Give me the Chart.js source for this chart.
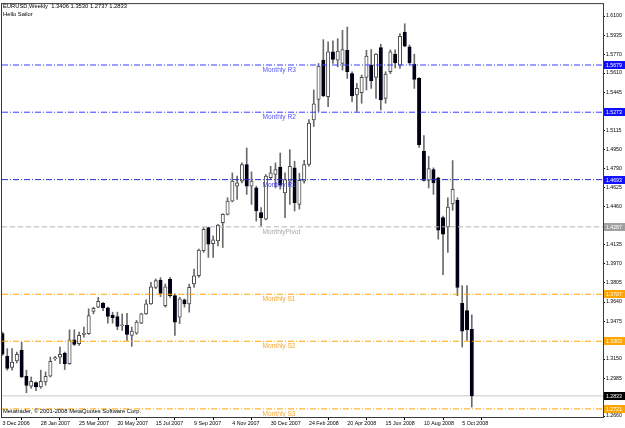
<!DOCTYPE html>
<html><head><meta charset="utf-8">
<script src="https://cdn.jsdelivr.net/npm/chart.js@4.4.1/dist/chart.umd.min.js"></script>
<style>html,body{margin:0;padding:0;background:#fff;overflow:hidden}canvas{display:block}</style>
</head><body>
<canvas id="c" width="625" height="428"></canvas>
<script>
// Weekly EURUSD candles, week index 0 = 3 Dec 2006 ... 98 = 19 Oct 2008
const open = [1.3368,1.3173,1.3077,1.3133,1.3225,1.3002,1.2917,1.2948,1.2911,1.2953,
1.3002,1.3150,1.3167,1.3202,1.3110,1.3316,1.3282,1.3362,1.3368,1.3559,
1.3596,1.3630,1.3591,1.3527,1.3516,1.3436,1.3439,1.3353,1.3373,1.3459,
1.3538,1.3624,1.3767,1.3830,1.3610,1.3835,1.3695,1.3510,1.3659,1.3624,
1.3795,1.3866,1.4081,1.4280,1.4143,1.4166,1.4322,1.4394,1.4508,1.4637,
1.4680,1.4823,1.4637,1.4622,1.4409,1.4352,1.4709,1.4737,1.4800,1.4579,
1.4680,1.4794,1.4480,1.4680,1.4823,1.5207,1.5384,1.5721,1.5407,1.5792,
1.5721,1.5692,1.5806,1.5606,1.5421,1.5441,1.5572,1.5678,1.5572,1.5829,
1.5392,1.5621,1.5772,1.5678,1.5963,1.5835,1.5687,1.5564,1.4936,1.4686,
1.4780,1.4708,1.4366,1.4286,1.4485,1.4514,1.3630,1.3567,1.3406];
const high = [1.3381,1.3240,1.3240,1.3210,1.3295,1.3054,1.2996,1.2953,1.3054,1.3039,
1.3167,1.3173,1.3253,1.3210,1.3402,1.3402,1.3381,1.3425,1.3582,1.3596,
1.3681,1.3638,1.3596,1.3553,1.3553,1.3538,1.3544,1.3425,1.3482,1.3544,
1.3659,1.3809,1.3839,1.3850,1.3795,1.3852,1.3710,1.3681,1.3667,1.3795,
1.3924,1.4096,1.4280,1.4285,1.4209,1.4309,1.4400,1.4537,1.4751,1.4723,
1.4837,1.4965,1.4760,1.4637,1.4452,1.4737,1.4808,1.4837,1.4922,1.4751,
1.4951,1.4851,1.4748,1.4860,1.5210,1.5464,1.5692,1.5897,1.5878,1.5886,
1.5906,1.5978,1.6006,1.5621,1.5521,1.5593,1.5806,1.5812,1.5777,1.5858,
1.5621,1.5809,1.5809,1.5949,1.6034,1.5852,1.5772,1.5570,1.5073,1.4894,
1.4794,1.4714,1.4380,1.4537,1.4857,1.4537,1.3781,1.3781,1.3530];
const low = [1.3180,1.3054,1.3054,1.3116,1.2990,1.2860,1.2898,1.2877,1.2898,1.2925,
1.2996,1.3139,1.3110,1.3060,1.3105,1.3267,1.3267,1.3339,1.3362,1.3538,
1.3591,1.3567,1.3459,1.3459,1.3402,1.3396,1.3310,1.3259,1.3362,1.3454,
1.3533,1.3619,1.3755,1.3687,1.3596,1.3681,1.3353,1.3454,1.3596,1.3553,
1.3767,1.3852,1.4067,1.4024,1.4024,1.4123,1.4109,1.4389,1.4502,1.4523,
1.4665,1.4566,1.4480,1.4337,1.4294,1.4346,1.4697,1.4622,1.4611,1.4366,
1.4480,1.4423,1.4440,1.4663,1.4808,1.5150,1.5279,1.5407,1.5321,1.5692,
1.5664,1.5635,1.5563,1.5364,1.5279,1.5350,1.5464,1.5478,1.5392,1.5293,
1.5350,1.5604,1.5655,1.5649,1.5835,1.5681,1.5478,1.4970,1.4680,1.4622,
1.4566,1.4181,1.3875,1.4067,1.4429,1.3695,1.3253,1.3310,1.2737];
const close = [1.3191,1.3069,1.3124,1.3191,1.2996,1.2922,1.2959,1.2911,1.2959,1.3002,
1.3130,1.3162,1.3191,1.3110,1.3316,1.3276,1.3353,1.3373,1.3524,1.3587,
1.3647,1.3591,1.3516,1.3505,1.3430,1.3445,1.3362,1.3390,1.3467,1.3538,
1.3624,1.3772,1.3824,1.3715,1.3772,1.3695,1.3467,1.3667,1.3624,1.3767,
1.3866,1.4087,1.4266,1.4138,1.4175,1.4303,1.4394,1.4508,1.4680,1.4665,
1.4823,1.4637,1.4680,1.4423,1.4366,1.4723,1.4751,1.4780,1.4645,1.4694,
1.4808,1.4494,1.4686,1.4823,1.5179,1.5344,1.5670,1.5413,1.5792,1.5726,
1.5798,1.5812,1.5621,1.5413,1.5478,1.5572,1.5755,1.5544,1.5772,1.5379,
1.5601,1.5792,1.5698,1.5926,1.5841,1.5698,1.5555,1.4994,1.4686,1.4788,
1.4665,1.4258,1.4223,1.4457,1.4609,1.3767,1.3390,1.3402,1.2833];

const xTickIndex = [0,8,16,24,32,40,48,56,64,72,80,88,96];
const xTickLabels = ['3 Dec 2006','28 Jan 2007','25 Mar 2007','20 May 2007','15 Jul 2007','9 Sep 2007','4 Nov 2007','30 Dec 2007','24 Feb 2008','20 Apr 2008','15 Jun 2008','10 Aug 2008','5 Oct 2008'];
const yTicks = [1.6100,1.5935,1.5770,1.5610,1.5445,1.5115,1.4950,1.4790,1.4625,1.4460,1.4135,1.3970,1.3805,1.3640,1.3475,1.3150,1.2985,1.2660];

const levelNames = ['Monthly R3','Monthly R2','Monthly R1','MonthlyPivot','Monthly S1','Monthly S2','Monthly S3'];
const levelValues = [1.5679,1.5273,1.4693,1.4287,1.3707,1.3303,1.2721];
const currentPrice = 1.2833;
const headerLines = ['EURUSD,Weekly  1.3406 1.3530 1.2737 1.2833','Hello Sailor'];
const copyright = 'Metatrader, \u00A9 2001-2008 MetaQuotes Software Corp.';

// styles
const levelLineColors = ['#3c3cff','#3c3cff','#2a2ad0','#b4b4b4','#ffa500','#ffa500','#ffa500'];
const levelTextColors = ['#5a5aff','#5a5aff','#3c3cdc','#a8a8a8','#f8a830','#f8a830','#f8a830'];
const levelTagColors = ['#1010ff','#1010ff','#1010ff','#a0a0a0','#ffa500','#ffa500','#ffa500'];
const levelDash = [[6,2,1,2],[6,2,1,2],[6,2,1,2],[5,3],[6,2,1,2],[6,2,1,2],[6,2,1,2]];

const X_MIN = -0.1, X_MAX = 125.4, Y_MIN = 1.26514, Y_MAX = 1.62027;
const FONT = '"Liberation Sans", Arial, sans-serif';

const idx = open.map((_, i) => i);
const bull = idx.map(i => close[i] >= open[i]);

const datasets = [];
levelValues.forEach((v, k) => {
  datasets.push({
    type: 'line', data: [{x: X_MIN, y: v}, {x: X_MAX, y: v}],
    borderColor: levelLineColors[k], borderWidth: 1, borderDash: levelDash[k],
    pointRadius: 0, order: -1
  });
});
datasets.push({
  type: 'line', data: [{x: X_MIN, y: currentPrice}, {x: X_MAX, y: currentPrice}],
  borderColor: '#c8c8c8', borderWidth: 1, pointRadius: 0, order: 3
});
datasets.push({
  type: 'bar', label: 'body', order: 0, grouped: false,
  data: idx.map(i => ({x: i, y: [Math.min(open[i], close[i]), Math.max(open[i], close[i])]})),
  backgroundColor: idx.map(i => bull[i] ? '#ffffff' : '#000014'),
  borderColor: idx.map(i => bull[i] ? '#4a4a4a' : '#000014'),
  borderWidth: 1, borderSkipped: false, minBarLength: 1,
  barThickness: 3.4, maxBarThickness: 3.4
});
datasets.push({
  type: 'bar', label: 'wick', order: 1, grouped: false,
  data: idx.map(i => ({x: i, y: [low[i], high[i]]})),
  backgroundColor: '#6a6a6a', borderWidth: 0,
  barThickness: 1, maxBarThickness: 1
});

const overlay = {
  id: 'overlay',
  afterDraw(chart) {
    const ctx = chart.ctx, a = chart.chartArea;
    const ys = chart.scales.y, xs = chart.scales.x;
    ctx.save();
    // frame
    ctx.strokeStyle = '#3a3a3a'; ctx.lineWidth = 1;
    ctx.strokeRect(a.left - 0.5, a.top - 0.5, a.right - a.left + 1, a.bottom - a.top + 1);
    // level labels on chart
    ctx.font = '6.6px ' + FONT; ctx.textBaseline = 'top'; ctx.textAlign = 'left';
    const lx = xs.getPixelForValue(54.3);
    levelValues.forEach((v, k) => {
      ctx.fillStyle = levelTextColors[k];
      ctx.fillText(levelNames[k], lx, ys.getPixelForValue(v) + 2);
    });
    // price tags on axis
    ctx.font = '5.2px ' + FONT; ctx.textBaseline = 'middle';
    const tag = (v, bg) => {
      const py = Math.round(ys.getPixelForValue(v));
      ctx.fillStyle = bg; ctx.fillRect(a.right + 1, py - 4, 21, 8);
      ctx.fillStyle = '#ffffff'; ctx.fillText(v.toFixed(4), a.right + 3, py + 0.5);
    };
    levelValues.forEach((v, k) => tag(v, levelTagColors[k]));
    tag(currentPrice, '#000000');
    // header & copyright
    ctx.fillStyle = '#000000'; ctx.font = '5.8px ' + FONT; ctx.textBaseline = 'middle';
    ctx.fillText(headerLines[0], 3, 6);
    ctx.fillText(headerLines[1], 3, 14);
    ctx.fillText(copyright, 3, 411);
    ctx.restore();
  }
};

new Chart(document.getElementById('c'), {
  type: 'bar',
  data: { datasets },
  plugins: [overlay],
  options: {
    responsive: false, animation: false, devicePixelRatio: 1,
    layout: { padding: { left: 2, top: 2, right: 0, bottom: 0 } },
    plugins: { legend: { display: false }, tooltip: { enabled: false } },
    scales: {
      x: {
        type: 'linear', min: X_MIN, max: X_MAX, offset: false,
        afterFit: s => { s.height = 11; },
        afterBuildTicks: s => { s.ticks = xTickIndex.map(v => ({ value: v })); },
        ticks: {
          autoSkip: false, maxRotation: 0, align: 'start', padding: 0,
          font: { family: FONT, size: 5.3 }, color: '#000',
          callback: v => { const k = xTickIndex.indexOf(v); return k >= 0 ? xTickLabels[k] : null; }
        },
        grid: { drawOnChartArea: false, tickLength: 3, color: '#000' },
        border: { display: true, color: '#3a3a3a' }
      },
      y: {
        position: 'right', min: Y_MIN, max: Y_MAX,
        afterFit: s => { s.width = 22; },
        afterBuildTicks: s => { s.ticks = yTicks.map(v => ({ value: v })); },
        ticks: {
          autoSkip: false, padding: 1,
          font: { family: FONT, size: 5.2 }, color: '#000',
          callback: v => Number(v).toFixed(4)
        },
        grid: { drawOnChartArea: false, tickLength: 2, color: '#000' },
        border: { display: true, color: '#3a3a3a' }
      }
    }
  }
});
</script>
</body></html>
